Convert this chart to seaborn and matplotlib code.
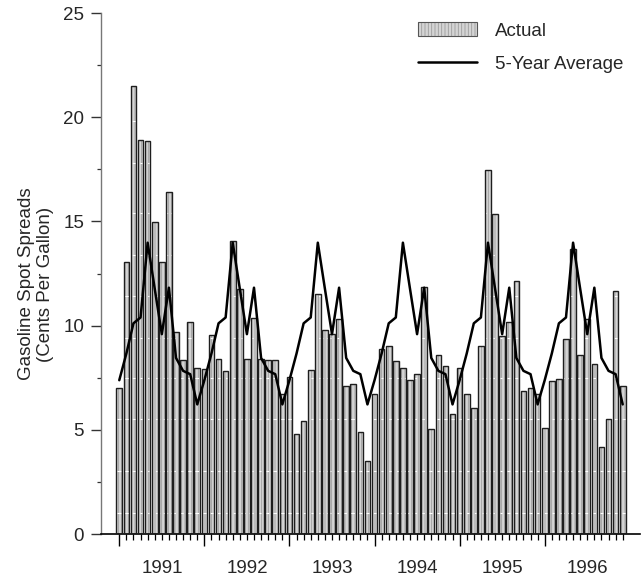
import numpy as np
import pandas as pd
import matplotlib
matplotlib.use("Agg")
import matplotlib.pyplot as plt
import seaborn as sns
from matplotlib.patches import Patch
from matplotlib.lines import Line2D

# ---------------- data ----------------
years = ["1991", "1992", "1993", "1994", "1995", "1996"]

actual = [
    7.03, 13.04, 21.51, 18.92, 18.87, 14.95, 13.04, 16.42, 9.68, 8.33, 10.17, 7.96,   # 1991
    7.93, 9.57, 8.39, 7.80, 14.08, 11.74, 8.39, 10.35, 8.38, 8.33, 8.36, 6.74,        # 1992
    7.54, 4.79, 5.41, 7.86, 11.50, 9.79, 9.60, 10.31, 7.11, 7.22, 4.90, 3.50,         # 1993
    6.70, 8.90, 9.01, 8.31, 7.96, 7.38, 7.70, 11.86, 5.06, 8.60, 8.07, 5.78,          # 1994
    7.96, 6.71, 6.06, 9.01, 17.45, 15.38, 9.49, 10.19, 12.16, 6.86, 7.03, 6.74,       # 1995
    5.07, 7.32, 7.46, 9.34, 13.68, 8.61, 10.31, 8.18, 4.18, 5.54, 11.67, 7.11,        # 1996
]

# 5-year average by calendar month (same for every year shown)
monthly_avg = [7.38, 8.66, 10.11, 10.39, 13.98, 11.77, 9.59, 11.82, 8.45, 7.83, 7.67, 6.22]
five_year_avg = monthly_avg * len(years)

# light rendering streaks visible inside the bars
streak_levels = [1.0, 3.0, 5.5, 7.5, 9.4, 11.4, 13.4, 15.4, 17.8, 19.8]

y_ticks = [0, 5, 10, 15, 20, 25]

# ---------------- style ----------------
sns.set_theme(style="white")
plt.rcParams["font.family"] = ["Liberation Sans", "DejaVu Sans"]
plt.rcParams["hatch.linewidth"] = 0.6

FS = 13.5
bar_fill = "#d4d4d4"
hatch_col = "#9c9c9c"
edge_col = "#1e1e1e"
HATCH = "|||||"

fig = plt.figure(figsize=(6.44, 5.79), dpi=100)
ax = fig.add_axes([0.1568, 0.0777, 0.8370, 0.8998])

df = pd.DataFrame({
    "month": np.arange(len(actual)),
    "actual": actual,
    "avg": five_year_avg,
})

# hatched gray fill
sns.barplot(data=df, x="month", y="actual", color=bar_fill, saturation=1,
            width=0.8, edgecolor=hatch_col, linewidth=0, hatch=HATCH,
            ax=ax, zorder=2)
for lvl in streak_levels:
    ax.axhline(lvl, color="white", lw=0.8, ls=(0, (4, 3)), zorder=2.5)
# dark outlines
sns.barplot(data=df, x="month", y="actual", fill=False, color=edge_col,
            width=0.8, linewidth=1.0, ax=ax, zorder=3)
# 5-year average line
sns.lineplot(data=df, x="month", y="avg", color="black", lw=1.8, ax=ax, zorder=4)

# ---------------- axes ----------------
ax.set_xlim(-2.58, 73.44)
ax.set_ylim(0, 25)
ax.set_xlabel("")
ax.set_ylabel("Gasoline Spot Spreads\n(Cents Per Gallon)", fontsize=FS, linespacing=1.15)
ax.yaxis.set_label_coords(-0.088, 0.48)

for s in ["top", "right"]:
    ax.spines[s].set_visible(False)
ax.spines["left"].set_color("#777777")
ax.spines["left"].set_linewidth(1.0)
ax.spines["bottom"].set_color("black")
ax.spines["bottom"].set_linewidth(1.2)

year_starts = [12 * i for i in range(len(years))]
ax.set_xticks(year_starts)
ax.set_xticklabels([""] * len(year_starts))
ax.set_xticks([m for m in range(len(actual)) if m % 12 != 0], minor=True)
ax.tick_params(axis="x", which="major", bottom=True, length=8.6, width=1.0,
               color="black", direction="out")
ax.tick_params(axis="x", which="minor", bottom=True, length=4.3, width=0.9,
               color="black", direction="out")

ax.set_yticks(y_ticks)
ax.set_yticklabels([str(v) for v in y_ticks])
ax.set_yticks([2.5, 7.5, 12.5, 17.5, 22.5], minor=True)
ax.tick_params(axis="y", which="major", left=True, length=7.2, width=1.0,
               color="#333333", labelsize=FS, pad=5)
ax.tick_params(axis="y", which="minor", left=True, length=3.2, width=0.9,
               color="#333333")

sec = ax.secondary_xaxis("bottom")
sec.set_xticks([12 * i + 6.05 for i in range(len(years))], labels=years)
sec.tick_params(length=0, labelsize=FS, pad=19)
sec.spines["bottom"].set_visible(False)

# ---------------- legend ----------------
h_bar = (Patch(facecolor=bar_fill, edgecolor=hatch_col, hatch=HATCH, linewidth=0),
         Patch(facecolor="none", edgecolor="#555555", linewidth=0.8))
h_line = Line2D([], [], color="black", lw=1.8)
fig.legend([h_bar, h_line], ["Actual", "5-Year Average"],
           loc="upper left", bbox_to_anchor=(418 / 644, 1 - 22 / 579),
           bbox_transform=fig.transFigure, frameon=False, fontsize=FS,
           handlelength=3.15, handleheight=0.8, handletextpad=0.96,
           labelspacing=0.85, borderpad=0, borderaxespad=0)

fig.savefig("out.png", dpi=100)
